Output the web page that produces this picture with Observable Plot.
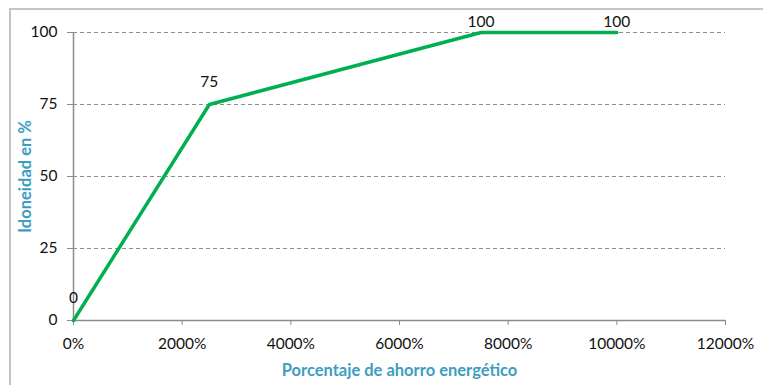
<!DOCTYPE html>
<html><head><meta charset="utf-8">
<script src="https://cdn.jsdelivr.net/npm/d3@7"></script>
<script src="https://cdn.jsdelivr.net/npm/@observablehq/plot@0.6"></script>
<style>
body{margin:0;background:#fff;}
#wrap{position:relative;width:763px;height:385px;overflow:hidden;}
#frame{position:absolute;left:9px;top:8px;width:800px;height:420px;border:2px solid #c4c4c4;box-sizing:border-box;}
#chart{position:absolute;left:0;top:0;}
</style></head><body><div id="wrap"><div id="frame"></div><div id="chart"></div></div>
<script>
const ahorro = [0, 2500, 7500, 10000];
const idoneidad = [0, 75, 100, 100];
const xTicks = [0, 2000, 4000, 6000, 8000, 10000, 12000];
const yTicks = [0, 25, 50, 75, 100];
const xTitle = "Porcentaje de ahorro energético";
const yTitle = "Idoneidad en %";

const data = ahorro.map((x, i) => ({x, y: idoneidad[i]}));
const axisColor = "#8c8c8c";
const titleColor = "#3d9dbf";

const chart = Plot.plot({
  width: 763, height: 385,
  marginLeft: 73, marginRight: 38, marginTop: 32, marginBottom: 65,
  style: {fontFamily: "Lato, 'Open Sans', sans-serif", fontSize: "15.5px", color: "#111", background: "transparent", overflow: "visible"},
  x: {domain: [0, 12000]},
  y: {domain: [0, 100]},
  marks: [
    Plot.gridY(yTicks.filter(d => d > 0), {stroke: axisColor, strokeOpacity: 1, strokeDasharray: "4,3", strokeWidth: 1}),
    Plot.ruleY([0], {stroke: axisColor, strokeWidth: 1.5}),
    Plot.ruleX([0], {stroke: axisColor, strokeWidth: 1.5}),
    Plot.axisX(xTicks, {tickFormat: d => d + "%", tickSize: 5, tickPadding: 12, stroke: axisColor, fill: "#111", label: null}),
    Plot.axisY(yTicks, {tickSize: 6, tickPadding: 10, stroke: axisColor, fill: "#111", label: null}),
    Plot.line(data, {x: "x", y: "y", stroke: "#00b050", strokeWidth: 3.5}),
    Plot.text(data.filter(d => d.y < 100), {x: "x", y: "y", text: d => String(d.y), dy: -22, fill: "#111"}),
    Plot.text(data.filter(d => d.y >= 100), {x: "x", y: "y", text: d => String(d.y), dy: -10, fill: "#111"}),
    Plot.text([xTitle], {frameAnchor: "bottom", textAnchor: "middle", lineAnchor: "middle", dy: 50, text: d => d, fill: titleColor, fontWeight: "bold", fontSize: 16.5}),
    Plot.text([yTitle], {frameAnchor: "left", textAnchor: "middle", lineAnchor: "middle", dx: -48, rotate: -90, text: d => d, fill: titleColor, fontWeight: "bold", fontSize: 16.5})
  ]
});
document.getElementById("chart").append(chart);
</script>
</body></html>
